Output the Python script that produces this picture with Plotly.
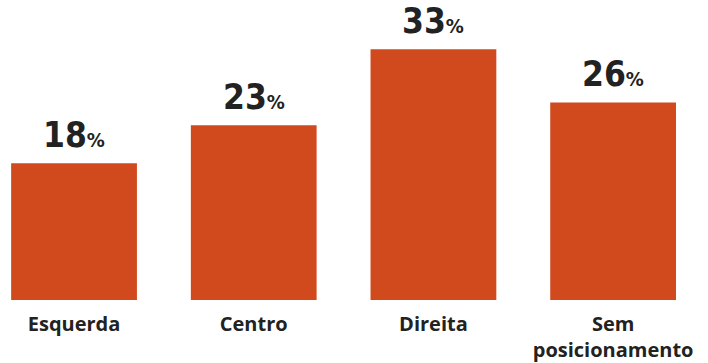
import plotly.graph_objects as go

categories = ["Esquerda", "Centro", "Direita", "Sem<br>posicionamento"]
values = [18, 23, 33, 26]

bar_color = "#D04A1E"

fig = go.Figure()
fig.add_trace(go.Bar(
    x=list(range(len(categories))),
    y=values,
    width=0.70,
    marker=dict(color=bar_color, line=dict(width=0)),
    hoverinfo="skip",
))

for i, v in enumerate(values):
    fig.add_annotation(
        x=i, y=v, yanchor="bottom", xanchor="center", yshift=6,
        showarrow=False,
        text=f"<b>{v}</b><span style='font-size:20px'><b>%</b></span>",
        font=dict(family="DejaVu Sans Condensed", size=35, color="#222222"),
    )

fig.update_layout(
    width=708, height=363,
    margin=dict(l=0, r=0, t=0, b=63, autoexpand=False),
    paper_bgcolor="white", plot_bgcolor="white",
    showlegend=False,
    xaxis=dict(
        range=[-0.412, 3.528],
        tickmode="array",
        tickvals=list(range(len(categories))),
        ticktext=[f"<b>{c}</b>" for c in categories],
        tickfont=dict(family="Open Sans", size=20, color="#222222"),
        showgrid=False, zeroline=False, showline=False, ticks="",
        ticklabelstandoff=10, automargin=False,
    ),
    yaxis=dict(range=[0, 39.47], visible=False, automargin=False),
)

fig.write_html("out.html")
